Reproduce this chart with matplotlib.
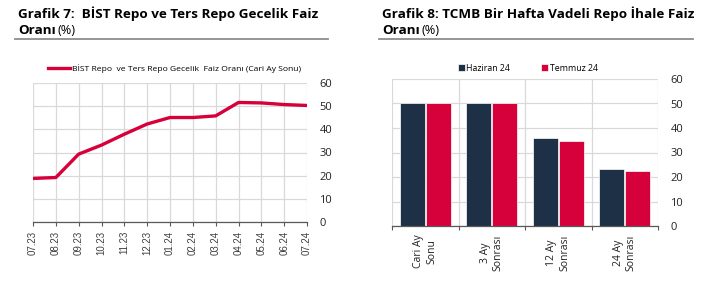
import matplotlib.pyplot as plt
import numpy as np
from matplotlib.lines import Line2D

# Grafik 7 data
months = ["07.23", "08.23", "09.23", "10.23", "11.23", "12.23", "01.24",
          "02.24", "03.24", "04.24", "05.24", "06.24", "07.24"]
bist_repo = [18.8, 19.2, 29.3, 33.2, 37.9, 42.3, 45.1, 45.1, 45.8, 51.6, 51.4, 50.7, 50.3]

# Grafik 8 data
horizons = ["Cari Ay\nSonu", "3 Ay\nSonrası", "12 Ay\nSonrası", "24 Ay\nSonrası"]
haziran_24 = [50.0, 50.0, 35.9, 23.2]
temmuz_24 = [50.0, 50.0, 34.8, 22.5]

RED = "#d6003a"
NAVY = "#1d3046"
GRID = "#d9d9d9"
W, H = 722, 291

plt.rcParams["font.family"] = ["Open Sans", "DejaVu Sans"]

fig = plt.figure(figsize=(W / 100, H / 100), dpi=100)
renderer = fig.canvas.get_renderer()


def px_axes(x0, y0, x1, y1):
    return fig.add_axes([x0 / W, 1 - y1 / H, (x1 - x0) / W, (y1 - y0) / H])


def header(x_text, x0, x1, line1):
    fig.text(x_text / W, 1 - 18 / H, line1, fontsize=9.7, fontweight="bold", va="baseline", ha="left")
    t = fig.text(x_text / W, 1 - 33.5 / H, "Oranı", fontsize=9.7, fontweight="bold",
                 va="baseline", ha="left")
    bb = t.get_window_extent(renderer)
    fig.text((bb.x1 + 2) / W, 1 - 33.5 / H, "(%)", fontsize=9.2, va="baseline", ha="left")
    fig.add_artist(Line2D([x0 / W, x1 / W], [1 - 38.5 / H, 1 - 38.5 / H], color="#8c8c8c", lw=1.3))


def style(ax):
    for s in ["left", "top", "right"]:
        ax.spines[s].set_visible(False)
    ax.spines["bottom"].set_color("#595959")
    ax.spines["bottom"].set_linewidth(0.9)
    ax.yaxis.tick_right()
    ax.set_ylim(0, 60)
    ax.set_yticks(range(0, 61, 10))
    ax.tick_params(axis="y", length=0, labelsize=8, pad=9, colors="#222222")
    ax.tick_params(axis="x", length=3, width=0.8, color="#595959")
    ax.grid(axis="y", color=GRID, lw=0.9)
    ax.set_axisbelow(True)


header(18, 15, 328, "Grafik 7:  BİST Repo ve Ters Repo Gecelik Faiz")
header(382, 379, 693, "Grafik 8: TCMB Bir Hafta Vadeli Repo İhale Faiz")

# Grafik 7 - line chart
ax1 = px_axes(33, 83, 307, 222)
x = np.arange(len(months))
ax1.plot(x, bist_repo, color=RED, lw=2.4, solid_joinstyle="round",
         label="BİST Repo  ve Ters Repo Gecelik  Faiz Oranı (Cari Ay Sonu)")
style(ax1)
ax1.set_xlim(0, len(months) - 1)
ax1.set_xticks(x)
ax1.set_xticklabels(months, rotation=90, fontsize=7, family="Liberation Sans", color="#404040")
ax1.grid(axis="x", color=GRID, lw=0.9)
ax1.legend(loc="lower center", bbox_to_anchor=(0.515, 1.03), frameon=False, fontsize=6.1,
           handlelength=2.7, handletextpad=0.15, borderaxespad=0.3)

# Grafik 8 - bar chart
ax2 = px_axes(392, 79, 658, 226)
xc = np.arange(len(horizons))
bw = 0.375
ax2.bar(xc - bw / 2 - 0.005, haziran_24, bw, color=NAVY, edgecolor="white", lw=0.5, label="Haziran 24")
ax2.bar(xc + bw / 2 + 0.005, temmuz_24, bw, color=RED, edgecolor="white", lw=0.5, label="Temmuz 24")
style(ax2)
ax2.set_xlim(-0.5, len(horizons) - 0.5)
ax2.set_xticks(xc)
ax2.set_xticklabels(horizons, rotation=90, fontsize=7.5, color="#222222", linespacing=1.3)
ax2.tick_params(axis="x", length=0, pad=6)
ax2.set_xticks(np.arange(-0.5, len(horizons)), minor=True)
ax2.tick_params(axis="x", which="minor", length=3, width=0.8, color="#595959")
ax2.grid(axis="x", which="minor", color=GRID, lw=0.9)
ax2.legend(loc="lower center", bbox_to_anchor=(0.51, 1.0), ncol=2, frameon=False, fontsize=6.3,
           handlelength=0.8, handleheight=0.8, handletextpad=0.15, columnspacing=3.6, borderaxespad=0.3)

fig.savefig("out.png", dpi=100)
